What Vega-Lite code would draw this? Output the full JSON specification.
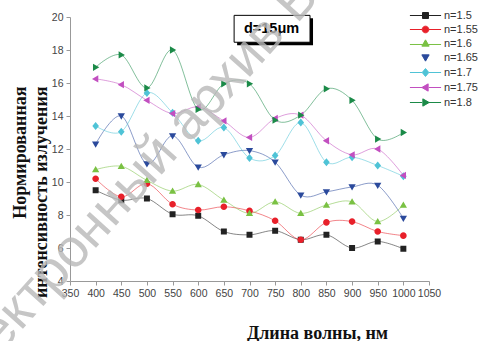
{
  "$schema": "https://vega.github.io/schema/vega-lite/v6.json",
  "width": 359,
  "height": 264,
  "autosize": {"type": "none"},
  "padding": {"left": 70, "top": 17, "right": 57, "bottom": 60},
  "background": "white",
  "config": {"view": {"stroke": null}},
  "datasets": {
    "series": [
      {"n": "n=1.5", "wl": 400, "v": 9.5}, {"n": "n=1.5", "wl": 450, "v": 8.9}, {"n": "n=1.5", "wl": 500, "v": 9.0}, {"n": "n=1.5", "wl": 550, "v": 8.05}, {"n": "n=1.5", "wl": 600, "v": 7.95}, {"n": "n=1.5", "wl": 650, "v": 7.0}, {"n": "n=1.5", "wl": 700, "v": 6.8}, {"n": "n=1.5", "wl": 750, "v": 7.05}, {"n": "n=1.5", "wl": 800, "v": 6.5}, {"n": "n=1.5", "wl": 850, "v": 6.8}, {"n": "n=1.5", "wl": 900, "v": 6.0}, {"n": "n=1.5", "wl": 950, "v": 6.4}, {"n": "n=1.5", "wl": 1000, "v": 5.95},
      {"n": "n=1.55", "wl": 400, "v": 10.2}, {"n": "n=1.55", "wl": 450, "v": 9.1}, {"n": "n=1.55", "wl": 500, "v": 9.9}, {"n": "n=1.55", "wl": 550, "v": 8.65}, {"n": "n=1.55", "wl": 600, "v": 8.3}, {"n": "n=1.55", "wl": 650, "v": 8.5}, {"n": "n=1.55", "wl": 700, "v": 8.25}, {"n": "n=1.55", "wl": 750, "v": 7.65}, {"n": "n=1.55", "wl": 800, "v": 6.5}, {"n": "n=1.55", "wl": 850, "v": 7.55}, {"n": "n=1.55", "wl": 900, "v": 7.6}, {"n": "n=1.55", "wl": 950, "v": 7.0}, {"n": "n=1.55", "wl": 1000, "v": 6.75},
      {"n": "n=1.6", "wl": 400, "v": 10.75}, {"n": "n=1.6", "wl": 450, "v": 10.95}, {"n": "n=1.6", "wl": 500, "v": 10.1}, {"n": "n=1.6", "wl": 550, "v": 9.45}, {"n": "n=1.6", "wl": 600, "v": 9.85}, {"n": "n=1.6", "wl": 650, "v": 8.9}, {"n": "n=1.6", "wl": 700, "v": 8.1}, {"n": "n=1.6", "wl": 750, "v": 8.8}, {"n": "n=1.6", "wl": 800, "v": 8.1}, {"n": "n=1.6", "wl": 850, "v": 8.6}, {"n": "n=1.6", "wl": 900, "v": 8.8}, {"n": "n=1.6", "wl": 950, "v": 7.6}, {"n": "n=1.6", "wl": 1000, "v": 8.6},
      {"n": "n=1.65", "wl": 400, "v": 12.3}, {"n": "n=1.65", "wl": 450, "v": 14.0}, {"n": "n=1.65", "wl": 500, "v": 11.1}, {"n": "n=1.65", "wl": 550, "v": 12.8}, {"n": "n=1.65", "wl": 600, "v": 10.9}, {"n": "n=1.65", "wl": 650, "v": 11.65}, {"n": "n=1.65", "wl": 700, "v": 11.9}, {"n": "n=1.65", "wl": 750, "v": 11.2}, {"n": "n=1.65", "wl": 800, "v": 9.2}, {"n": "n=1.65", "wl": 850, "v": 9.4}, {"n": "n=1.65", "wl": 900, "v": 9.7}, {"n": "n=1.65", "wl": 950, "v": 9.8}, {"n": "n=1.65", "wl": 1000, "v": 7.8},
      {"n": "n=1.7", "wl": 400, "v": 13.4}, {"n": "n=1.7", "wl": 450, "v": 13.05}, {"n": "n=1.7", "wl": 500, "v": 15.4}, {"n": "n=1.7", "wl": 550, "v": 14.2}, {"n": "n=1.7", "wl": 600, "v": 12.5}, {"n": "n=1.7", "wl": 650, "v": 13.3}, {"n": "n=1.7", "wl": 700, "v": 11.45}, {"n": "n=1.7", "wl": 750, "v": 11.6}, {"n": "n=1.7", "wl": 800, "v": 13.6}, {"n": "n=1.7", "wl": 850, "v": 11.2}, {"n": "n=1.7", "wl": 900, "v": 11.5}, {"n": "n=1.7", "wl": 950, "v": 11.0}, {"n": "n=1.7", "wl": 1000, "v": 10.35},
      {"n": "n=1.75", "wl": 400, "v": 16.25}, {"n": "n=1.75", "wl": 450, "v": 15.9}, {"n": "n=1.75", "wl": 500, "v": 14.95}, {"n": "n=1.75", "wl": 550, "v": 14.15}, {"n": "n=1.75", "wl": 600, "v": 14.55}, {"n": "n=1.75", "wl": 650, "v": 13.7}, {"n": "n=1.75", "wl": 700, "v": 12.7}, {"n": "n=1.75", "wl": 750, "v": 13.85}, {"n": "n=1.75", "wl": 800, "v": 14.05}, {"n": "n=1.75", "wl": 850, "v": 12.5}, {"n": "n=1.75", "wl": 900, "v": 11.65}, {"n": "n=1.75", "wl": 950, "v": 12.0}, {"n": "n=1.75", "wl": 1000, "v": 10.4},
      {"n": "n=1.8", "wl": 400, "v": 16.95}, {"n": "n=1.8", "wl": 450, "v": 17.7}, {"n": "n=1.8", "wl": 500, "v": 15.7}, {"n": "n=1.8", "wl": 550, "v": 18.0}, {"n": "n=1.8", "wl": 600, "v": 14.4}, {"n": "n=1.8", "wl": 650, "v": 15.95}, {"n": "n=1.8", "wl": 700, "v": 15.95}, {"n": "n=1.8", "wl": 750, "v": 13.75}, {"n": "n=1.8", "wl": 800, "v": 14.05}, {"n": "n=1.8", "wl": 850, "v": 15.65}, {"n": "n=1.8", "wl": 900, "v": 14.95}, {"n": "n=1.8", "wl": 950, "v": 12.6}, {"n": "n=1.8", "wl": 1000, "v": 13.0}
    ],
    "box": [{"wl": 670, "wl2": 818, "v": 20.1, "v2": 18.47}],
    "boxlabel": [{"wl": 743, "v": 19.25, "label": "d=15μm"}],
    "mark": [{"wl": 500, "v": 10.9, "label": "Электронный архив БГУ"}]
  },
  "encoding": {
    "x": {"field": "wl", "type": "quantitative", "scale": {"domain": [350, 1050], "nice": false, "zero": false},
      "axis": {"values": [350, 400, 450, 500, 550, 600, 650, 700, 750, 800, 850, 900, 950, 1000, 1050], "format": "d", "grid": false, "title": "Длина волны, нм",
        "titleFont": "Liberation Serif", "titleFontWeight": "bold", "titleFontSize": 18, "titleColor": "#111",
        "titleX": 247, "titleY": 57, "titleAlign": "center", "titleBaseline": "alphabetic", "titleAnchor": null,
        "labelFont": "Liberation Sans Narrow, Liberation Sans, sans-serif", "labelFontSize": 10.5, "labelColor": "#444", "labelPadding": 3,
        "domainColor": "#999", "tickColor": "#999", "tickSize": 4, "labelFlush": false, "labelOverlap": false}},
    "y": {"field": "v", "type": "quantitative", "scale": {"domain": [4, 20], "nice": false, "zero": false},
      "axis": {"values": [4, 6, 8, 10, 12, 14, 16, 18, 20], "format": "d", "grid": false, "title": ["Нормированная", "интенсивность излучения"],
        "titleFont": "Liberation Serif", "titleFontWeight": "bold", "titleFontSize": 18, "titleColor": "#111",
        "titleAngle": -90, "titleAlign": "right", "titleBaseline": "top", "titleX": -59, "titleY": 69, "titleLineHeight": 21, "titleAnchor": null,
        "labelFont": "Liberation Sans Narrow, Liberation Sans, sans-serif", "labelFontSize": 10.5, "labelColor": "#444", "labelPadding": 3,
        "domainColor": "#999", "tickColor": "#999", "tickSize": 4, "labelFlush": false, "labelOverlap": false}}
  },
  "layer": [
    {
      "data": {"name": "series"},
      "mark": {"type": "line", "interpolate": "cardinal", "tension": 0, "strokeWidth": 1, "opacity": 0.55},
      "encoding": {
        "color": {"field": "n", "type": "nominal", "title": null,
          "scale": {"domain": ["n=1.5", "n=1.55", "n=1.6", "n=1.65", "n=1.7", "n=1.75", "n=1.8"],
            "range": ["#222222", "#e8202a", "#7ac143", "#2b4a9c", "#4fc3d6", "#c24fc0", "#1b8a48"]},
          "legend": {"orient": "none", "legendX": 350, "legendY": -7, "symbolSize": 44, "symbolOpacity": 1, "symbolStrokeWidth": 1, "labelOffset": 13, "rowPadding": 2,
            "labelFont": "Liberation Sans", "labelFontSize": 11, "labelColor": "#333", "padding": 0}},
        "detail": {"field": "n"}
      }
    },
    {
      "data": {"name": "series"},
      "mark": {"type": "point", "filled": true, "size": 44, "opacity": 1},
      "encoding": {
        "color": {"field": "n", "type": "nominal", "title": null,
          "legend": {"orient": "none", "legendX": 350, "legendY": -7, "symbolSize": 44, "symbolOpacity": 1, "symbolStrokeWidth": 1, "labelOffset": 13, "rowPadding": 2,
            "labelFont": "Liberation Sans", "labelFontSize": 11, "labelColor": "#333", "padding": 0}},
        "shape": {"field": "n", "type": "nominal", "title": null,
          "scale": {"domain": ["n=1.5", "n=1.55", "n=1.6", "n=1.65", "n=1.7", "n=1.75", "n=1.8"],
            "range": [
              "M-4.7,0H-0.9M0.9,0H4.7M-0.9,-0.9H0.9V0.9H-0.9Z",
              "M-4.7,0H-1M1,0H4.7M-1,0A1,1 0 1,0 1,0A1,1 0 1,0 -1,0Z",
              "M-4.7,0.3H-0.8M0.8,0.3H4.7M0,-1.1L1.1,0.8H-1.1Z",
              "M0,1.1L1.1,-0.8H-1.1Z",
              "M-4.7,0H-1M1,0H4.7M0,-1.2L1,0L0,1.2L-1,0Z",
              "M-4.7,0H-1M1,0H4.7M-1.1,0L0.8,-1.1V1.1Z",
              "M-4.7,0H-1M1,0H4.7M1.1,0L-0.8,-1.1V1.1Z"
            ]},
          "legend": {"orient": "none", "legendX": 350, "legendY": -7, "symbolSize": 44, "symbolOpacity": 1, "symbolStrokeWidth": 1, "labelOffset": 13, "rowPadding": 2,
            "labelFont": "Liberation Sans", "labelFontSize": 11, "labelColor": "#333", "padding": 0}}
      }
    },
    {
      "data": {"name": "box"},
      "mark": {"type": "rect", "fill": "#000", "xOffset": 3, "x2Offset": 3, "yOffset": 3, "y2Offset": 3},
      "encoding": {"x2": {"field": "wl2"}, "y2": {"field": "v2"}}
    },
    {
      "data": {"name": "box"},
      "mark": {"type": "rect", "fill": "#fff", "stroke": "#000", "strokeWidth": 1},
      "encoding": {"x2": {"field": "wl2"}, "y2": {"field": "v2"}}
    },
    {
      "data": {"name": "boxlabel"},
      "mark": {"type": "text", "font": "Liberation Sans", "fontWeight": "bold", "fontSize": 14.5, "color": "#000", "align": "center", "baseline": "middle"},
      "encoding": {"text": {"field": "label"}}
    },
    {
      "data": {"name": "mark"},
      "mark": {"type": "text", "font": "Liberation Sans", "fontSize": 54, "color": "#b8b8b8", "opacity": 0.8, "angle": 312, "align": "center", "baseline": "middle"},
      "encoding": {"text": {"field": "label"}}
    }
  ]
}
